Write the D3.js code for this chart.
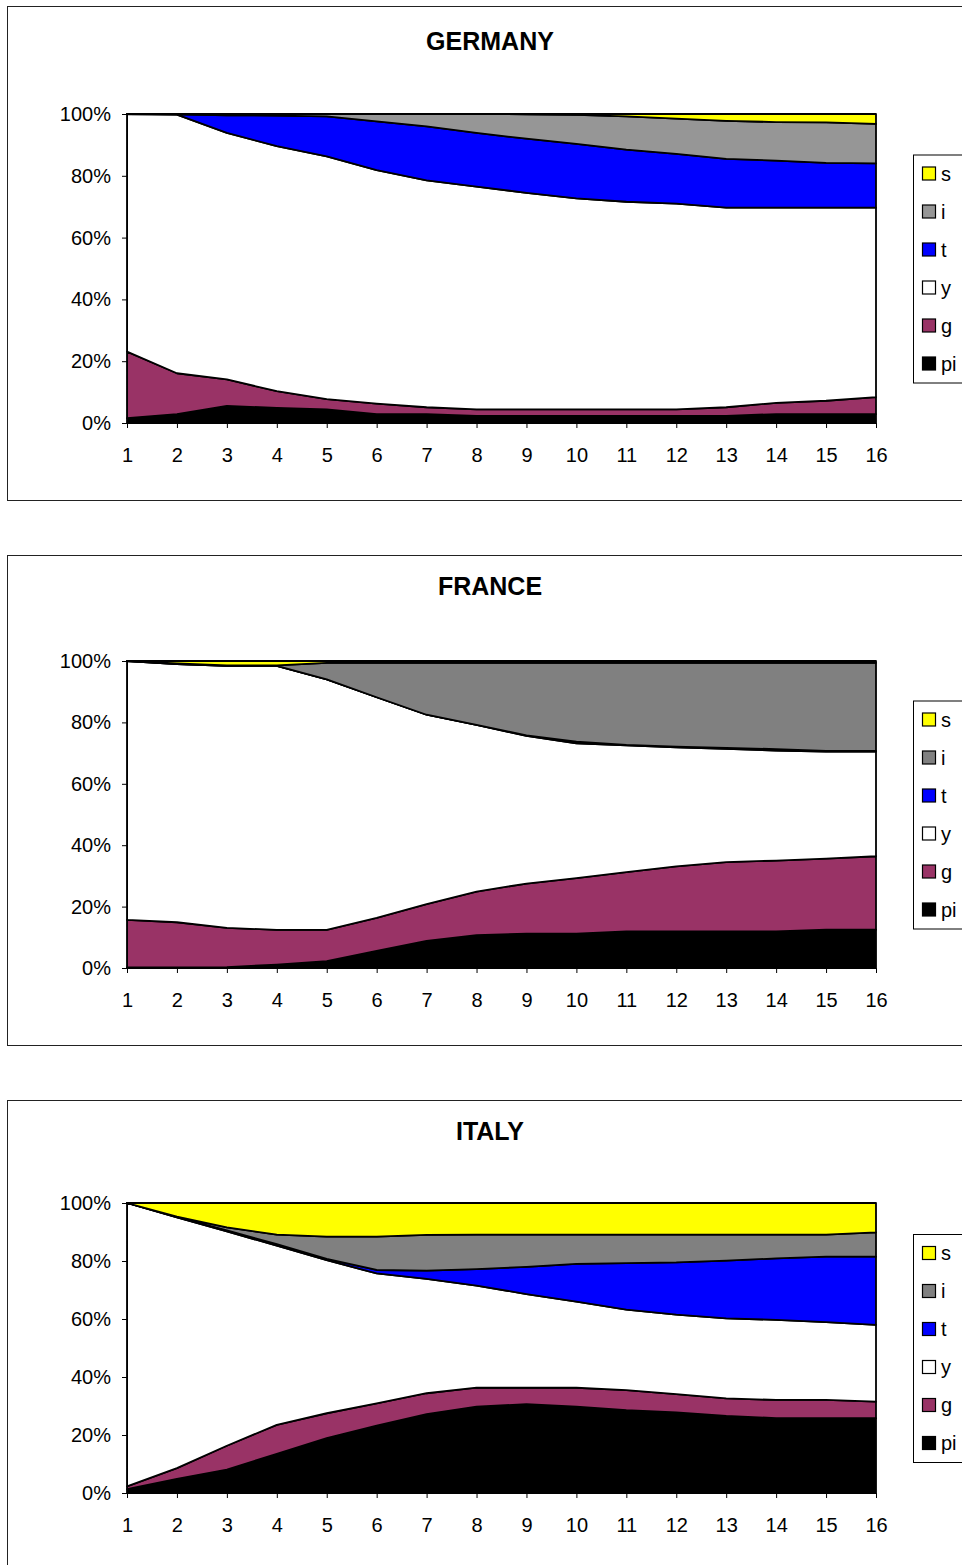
<!DOCTYPE html>
<html>
<head>
<meta charset="utf-8">
<script src="https://cdn.jsdelivr.net/npm/d3@7"></script>
<style>
  body { margin: 0; background: #fff; }
  svg { display: block; font-family: "Liberation Sans", Arial, sans-serif; }
</style>
</head>
<body>
<div id="chart"></div>
<script>
// periods on the x axis
var periods = [1, 2, 3, 4, 5, 6, 7, 8, 9, 10, 11, 12, 13, 14, 15, 16];

// stack order, bottom to top
var keys = ["pi", "g", "y", "t", "i", "s"];

// GERMANY (shares in %)
var germanyPi = [1.6, 2.9, 5.5, 4.9, 4.4, 2.9, 2.9, 2.3, 2.3, 2.3, 2.3, 2.3, 2.3, 2.9, 2.9, 2.9];
var germanyG  = [21.5, 13.2, 8.6, 5.4, 3.3, 3.4, 2.2, 2.1, 2.1, 2.1, 2.1, 2.1, 2.8, 3.6, 4.3, 5.5];
var germanyY  = [76.9, 83.7, 79.8, 79.3, 78.6, 75.5, 73.4, 72.1, 70.1, 68.3, 67.2, 66.6, 64.6, 63.2, 62.5, 61.3];
var germanyT  = [0, 0.1, 5.7, 9.9, 12.9, 15.8, 17.5, 17.4, 17.5, 17.6, 16.9, 16.1, 15.8, 15.2, 14.5, 14.3];
var germanyI  = [0, 0.1, 0.4, 0.5, 0.8, 2.4, 4.0, 6.1, 7.9, 9.4, 10.7, 11.4, 12.3, 12.5, 13.1, 12.8];
var germanyS  = [0, 0, 0, 0, 0, 0, 0, 0, 0.1, 0.3, 0.8, 1.5, 2.2, 2.6, 2.7, 3.2];

// FRANCE
var francePi = [0.2, 0.2, 0.3, 1.1, 2.2, 5.6, 8.8, 10.7, 11.2, 11.2, 11.9, 11.9, 11.9, 11.9, 12.5, 12.5];
var franceG  = [15.5, 14.7, 12.8, 11.3, 10.2, 10.7, 12.0, 14.2, 16.3, 18.1, 19.3, 21.2, 22.6, 23.1, 23.1, 23.9];
var franceY  = [84.3, 84.1, 85.3, 86.0, 81.6, 71.9, 61.7, 54.3, 48.1, 43.9, 41.3, 38.8, 36.9, 35.8, 34.9, 34.1];
var franceT  = [0, 0, 0, 0, 0, 0, 0, 0, 0.2, 0.5, 0.2, 0.2, 0.3, 0.5, 0.2, 0.2];
var franceI  = [0, 0.2, 0.2, 0.2, 5.4, 11.2, 16.9, 20.2, 23.6, 25.7, 26.7, 27.3, 27.7, 28.1, 28.7, 28.7];
var franceS  = [0, 0.8, 1.4, 1.4, 0.6, 0.6, 0.6, 0.6, 0.6, 0.6, 0.6, 0.6, 0.6, 0.6, 0.6, 0.6];

// ITALY
var italyPi = [1.3, 4.9, 8.1, 13.5, 18.9, 23.2, 27.2, 29.8, 30.6, 29.8, 28.6, 27.8, 26.6, 25.8, 25.8, 25.8];
var italyG  = [1.0, 3.7, 8.2, 10.0, 8.6, 7.7, 7.2, 6.5, 5.7, 6.5, 6.9, 6.3, 6.0, 6.3, 6.3, 5.7];
var italyY  = [97.7, 86.4, 73.9, 61.8, 52.8, 44.8, 39.4, 35.2, 32.3, 29.7, 27.7, 27.4, 27.6, 27.6, 26.8, 26.5];
var italyT  = [0, 0.1, 0.4, 0.5, 0.4, 1.2, 2.9, 5.7, 9.4, 13.0, 16.1, 18.0, 19.9, 21.2, 22.6, 23.5];
var italyI  = [0, 0.2, 1.0, 3.3, 7.7, 11.5, 12.3, 11.9, 11.1, 10.1, 9.8, 9.6, 9.0, 8.2, 7.6, 8.4];
var italyS  = [0, 4.7, 8.4, 10.9, 11.6, 11.6, 11.0, 10.9, 10.9, 10.9, 10.9, 10.9, 10.9, 10.9, 10.9, 10.1];

var yTicks = [0, 0.2, 0.4, 0.6, 0.8, 1];

// panel layout (pixels)
var panels = [
  { title: "GERMANY", series: [germanyPi, germanyG, germanyY, germanyT, germanyI, germanyS],
    gray: "#969696", boxTop: 6, boxBottom: 500, titleY: 41, plotTop: 114, plotBottom: 423 },
  { title: "FRANCE", series: [francePi, franceG, franceY, franceT, franceI, franceS],
    gray: "#808080", boxTop: 555, boxBottom: 1045, titleY: 586, plotTop: 661, plotBottom: 968 },
  { title: "ITALY", series: [italyPi, italyG, italyY, italyT, italyI, italyS],
    gray: "#808080", boxTop: 1100, boxBottom: 1572, titleY: 1131, plotTop: 1203, plotBottom: 1493 }
];

var W = 962, H = 1565;
var plotLeft = 127, plotRight = 876;

var svg = d3.select("#chart").append("svg")
    .attr("width", W)
    .attr("height", H);

svg.append("rect").attr("width", W).attr("height", H).attr("fill", "#fff");

var x = d3.scaleLinear().domain([1, 16]).range([plotLeft, plotRight]);

panels.forEach(function(p) {
    var colors = {
        "pi": "#000000",
        "g" : "#993366",
        "y" : "#ffffff",
        "t" : "#0000ff",
        "i" : p.gray,
        "s" : "#ffff00"
    };

    // outer chart frame (runs off the right edge like the original)
    svg.append("rect")
        .attr("x", 7.5)
        .attr("y", p.boxTop + 0.5)
        .attr("width", 1000)
        .attr("height", p.boxBottom - p.boxTop)
        .attr("fill", "#fff")
        .attr("stroke", "#222")
        .attr("stroke-width", 1);

    svg.append("text")
        .attr("x", 490)
        .attr("y", p.titleY)
        .attr("text-anchor", "middle")
        .attr("dominant-baseline", "central")
        .style("font-size", "25px")
        .style("font-weight", "bold")
        .text(p.title);

    // rows for the stack
    var rows = periods.map(function(d, j) {
        var r = { period: d };
        keys.forEach(function(k, n) { r[k] = p.series[n][j]; });
        return r;
    });

    var stacked = d3.stack().keys(keys).offset(d3.stackOffsetExpand)(rows);

    var y = d3.scaleLinear().domain([0, 1]).range([p.plotBottom, p.plotTop]);

    var area = d3.area()
        .x(function(d) { return x(d.data.period); })
        .y0(function(d) { return y(d[0]); })
        .y1(function(d) { return y(d[1]); });

    svg.append("g")
        .selectAll("path")
        .data(stacked)
        .join("path")
        .attr("d", area)
        .attr("fill", function(d) { return colors[d.key]; })
        .attr("stroke", "#000")
        .attr("stroke-width", 1.8)
        .attr("stroke-linejoin", "round");

    // y axis
    var yAxis = svg.append("g")
        .attr("transform", "translate(" + plotLeft + ",0)")
        .call(d3.axisLeft(y).tickValues(yTicks).tickFormat(d3.format(".0%"))
            .tickSize(5).tickSizeOuter(0).tickPadding(11));
    yAxis.selectAll("text").style("font-size", "20px").style("font-family", "Liberation Sans, Arial, sans-serif").attr("fill", "#000");
    yAxis.selectAll("line, path").attr("stroke", "#000");

    // x axis
    var xAxis = svg.append("g")
        .attr("transform", "translate(0," + p.plotBottom + ")")
        .call(d3.axisBottom(x).tickValues(periods).tickFormat(d3.format("d"))
            .tickSize(5).tickSizeOuter(0).tickPadding(20));
    xAxis.selectAll("text").style("font-size", "20px").style("font-family", "Liberation Sans, Arial, sans-serif").attr("fill", "#000");
    xAxis.selectAll("line, path").attr("stroke", "#000");

    // legend, centred on the plot, listed top series first
    var legTop = (p.plotTop + p.plotBottom) / 2 - 114;
    var legend = svg.append("g").attr("transform", "translate(913," + legTop + ")");
    legend.append("rect")
        .attr("x", 0.5).attr("y", 0.5)
        .attr("width", 80).attr("height", 228)
        .attr("fill", "#fff")
        .attr("stroke", "#000");

    var items = legend.selectAll("g.item")
        .data(keys.slice().reverse())
        .join("g")
        .attr("class", "item")
        .attr("transform", function(d, n) { return "translate(0," + (19 + n * 38) + ")"; });
    items.append("rect")
        .attr("x", 9.5).attr("y", -6.5)
        .attr("width", 13).attr("height", 13)
        .attr("fill", function(d) { return colors[d]; })
        .attr("stroke", "#000")
        .attr("stroke-width", 1.2);
    items.append("text")
        .attr("x", 28)
        .attr("y", 0)
        .attr("dominant-baseline", "central")
        .style("font-size", "20px")
        .text(function(d) { return d; });
});
</script>
</body>
</html>
